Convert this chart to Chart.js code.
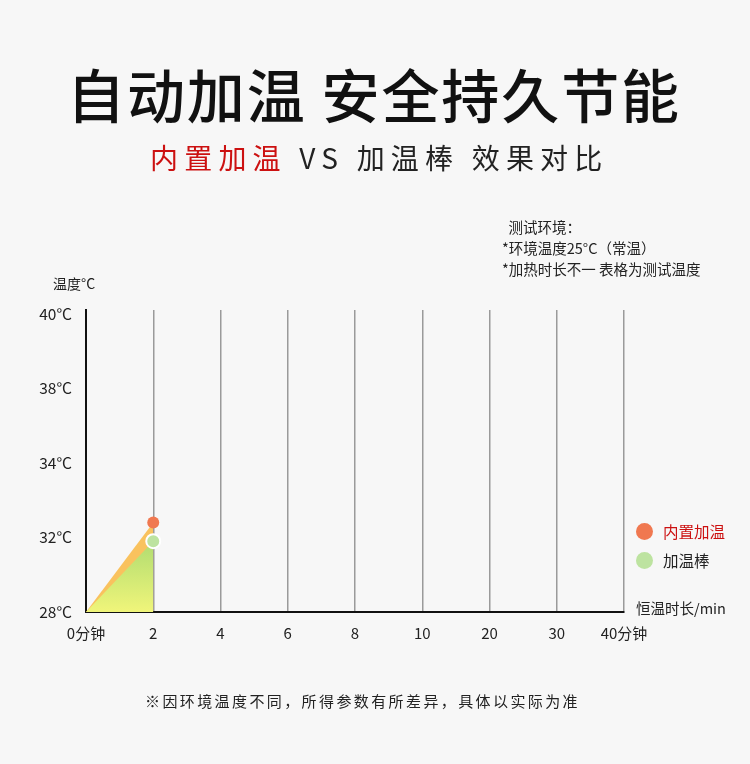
<!DOCTYPE html>
<html>
<head>
<meta charset="utf-8">
<script src="https://cdn.jsdelivr.net/npm/chart.js@4"></script>
<style>
  body { margin: 0; background: #f7f7f7; font-family: "Noto Sans CJK SC", sans-serif; color: #222; }
  #wrap { position: relative; width: 750px; height: 764px; overflow: hidden; }
  #wrap canvas { position: absolute; left: 0; top: 0; }
  .txt { position: absolute; white-space: nowrap; }
  #title { left: 67px; top: 51px; font-size: 58px; font-weight: 500; color: #111; letter-spacing: 1.9px; }
  #sub { left: 150px; top: 137px; font-size: 28px; letter-spacing: 6.2px; color: #222; }
  #sub span { color: #cc1111; }
  #note { left: 502px; top: 216px; font-size: 14.5px; line-height: 21px; color: #222; }
  #ylab { left: 53px; top: 273px; font-size: 14px; }
  #xlab { left: 636px; top: 597px; font-size: 14.5px; }
  .leg { position: absolute; font-size: 15.5px; }
  .leg i { position: absolute; left: -27px; top: 3px; width: 17px; height: 17px; border-radius: 50%; }
  #foot { left: 145px; top: 690px; font-size: 15px; letter-spacing: 2.4px; color: #222; }
</style>
</head>
<body>
<div id="wrap">
  <canvas id="myChart" width="750" height="764"></canvas>
  <div class="txt" id="title">自动加温 安全持久节能</div>
  <div class="txt" id="sub"><span>内置加温</span> VS 加温棒 效果对比</div>
  <div class="txt" id="note">&nbsp;&nbsp;测试环境：<br>*环境温度25°C（常温）<br>*加热时长不一 表格为测试温度</div>
  <div class="txt" id="ylab">温度°C</div>
  <div class="txt" id="xlab">恒温时长/min</div>
  <div class="leg" style="left:663px;top:520px;color:#cc1111"><i style="background:#f07850"></i>内置加温</div>
  <div class="leg" style="left:663px;top:549px;color:#222"><i style="background:#bde3a0"></i>加温棒</div>
  <div class="txt" id="foot">※因环境温度不同，所得参数有所差异，具体以实际为准</div>
</div>
<script>
let timeLabels = ['0分钟', '2', '4', '6', '8', '10', '20', '30', '40分钟'];
let tempLevels = [28, 32, 34, 38, 40];
let builtInTemps = [28, 32.4, null, null, null, null, null, null, null];
let heaterRodTemps = [28, 31.8, null, null, null, null, null, null, null];

// the y axis spaces the temperature labels evenly, so map a reading onto that axis
function tempToPos(t) {
  if (t === null) return null;
  for (let i = 0; i < tempLevels.length - 1; i++) {
    if (t <= tempLevels[i + 1]) {
      return i + (t - tempLevels[i]) / (tempLevels[i + 1] - tempLevels[i]);
    }
  }
  return tempLevels.length - 1;
}

let canvasChart = document.getElementById('myChart');
let ctx = canvasChart.getContext('2d');

function greenFill(context) {
  let area = context.chart.chartArea;
  if (!area) return '#b5e08a';
  let g = ctx.createLinearGradient(0, area.bottom - 90, 0, area.bottom);
  g.addColorStop(0, '#9ed56e');
  g.addColorStop(1, '#f0f57a');
  return g;
}

const data = {
  labels: timeLabels,
  datasets: [{
    label: '加温棒',
    data: heaterRodTemps.map(tempToPos),
    borderColor: 'rgba(0,0,0,0)',
    backgroundColor: greenFill,
    fill: 'origin',
    pointRadius: [0, 7, 0, 0, 0, 0, 0, 0, 0],
    pointBackgroundColor: '#bde3a0',
    pointBorderColor: '#ffffff',
    pointBorderWidth: 2,
    tension: 0,
    order: 1
  },
  {
    label: '内置加温',
    data: builtInTemps.map(tempToPos),
    borderColor: 'rgba(0,0,0,0)',
    backgroundColor: '#f9c25e',
    fill: 'origin',
    pointRadius: [0, 6, 0, 0, 0, 0, 0, 0, 0],
    pointBackgroundColor: '#f07850',
    pointBorderWidth: 0,
    tension: 0,
    order: 2
  }]
};

const config = {
  type: 'line',
  data: data,
  options: {
    responsive: false,
    animation: false,
    spanGaps: false,
    layout: { padding: { left: 0, right: 126, top: 310, bottom: 0 } },
    plugins: { legend: { display: false }, tooltip: { enabled: false } },
    scales: {
      x: {
        offset: false,
        afterFit: function (s) { s.height = 152; },
        grid: { color: '#9a9a9a', lineWidth: 1.5, drawTicks: false },
        border: { color: '#111', width: 2 },
        ticks: { color: '#222', font: { family: 'Noto Sans CJK SC', size: 15 }, padding: 12, maxRotation: 0, autoSkip: false }
      },
      y: {
        min: 0,
        max: 4.05,
        afterFit: function (s) { s.width = 86; },
        afterBuildTicks: function (s) { s.ticks = tempLevels.map(function (_, i) { return { value: i }; }); },
        grid: { display: false },
        border: { color: '#111', width: 2 },
        ticks: {
          color: '#222',
          font: { family: 'Noto Sans CJK SC', size: 15.5 },
          padding: 6,
          callback: function (v) { return tempLevels[v] + '°C'; }
        }
      }
    }
  }
};

new Chart(canvasChart, config);
</script>
</body>
</html>
